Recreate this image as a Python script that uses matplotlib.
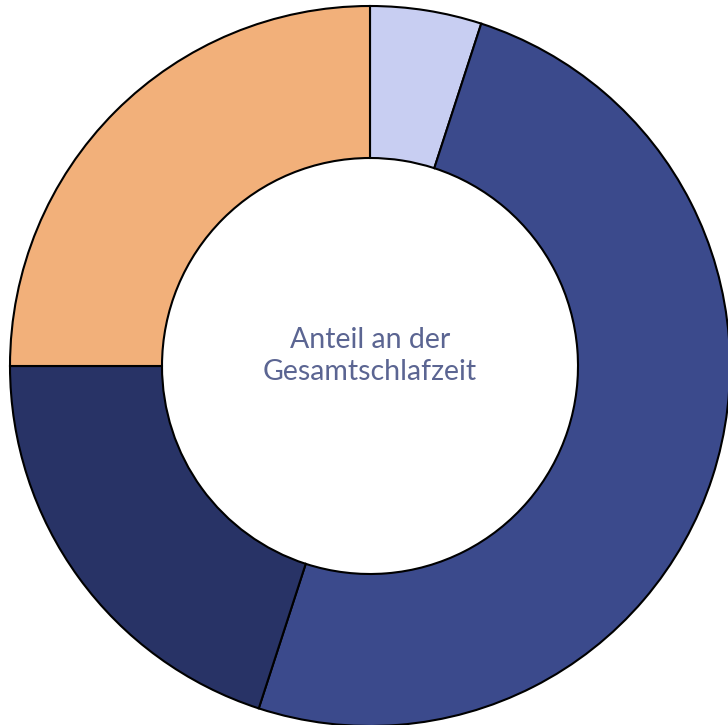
import matplotlib.pyplot as plt

# Anteile der Schlafphasen (im Uhrzeigersinn ab 12 Uhr)
labels = ['Wach', 'Leichtschlaf', 'Tiefschlaf', 'REM']
values = [5, 50, 20, 25]
colors = ['#C8CEF2', '#3B4A8C', '#283366', '#F2B07A']

fig = plt.figure(figsize=(7.28, 7.25), dpi=100)
ax = fig.add_axes([0, 0, 1, 1])
ax.pie(values, colors=colors, startangle=90, counterclock=False,
       center=(370, 359), radius=360,
       wedgeprops=dict(width=152, edgecolor='black', linewidth=1.5))
ax.set_xlim(0, 728)
ax.set_ylim(0, 725)
ax.set_aspect('equal')
ax.axis('off')

ax.text(370, 369, 'Anteil an der\nGesamtschlafzeit', ha='center', va='center',
        fontsize=20.5, color='#5B6592', family='Lato', linespacing=1.3)

plt.savefig('out.png', dpi=100)
